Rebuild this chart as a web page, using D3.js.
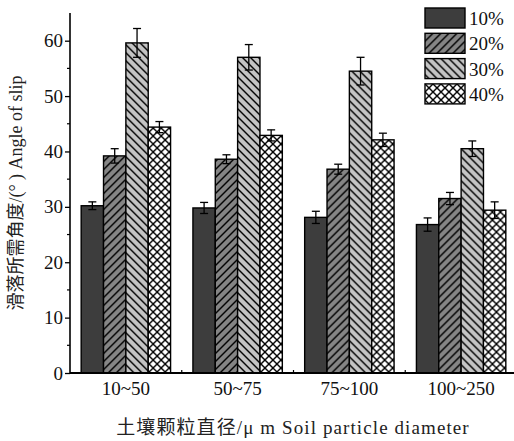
<!DOCTYPE html>
<html>
<head>
<meta charset="utf-8">
<script src="https://cdn.jsdelivr.net/npm/d3@7"></script>
<style>
  body { margin: 0; background: #fff; }
  svg text { font-family: 'Liberation Serif', 'Times New Roman', 'DejaVu Serif', 'Noto Sans CJK SC', serif; }
</style>
</head>
<body>
<div id="chart"></div>
<script>
const categories = ['10~50', '50~75', '75~100', '100~250'];
const seriesNames = ['10%', '20%', '30%', '40%'];
const means = [
  [30.2, 29.8, 28.1, 26.8],
  [39.2, 38.6, 36.8, 31.5],
  [59.6, 57.0, 54.5, 40.5],
  [44.4, 42.9, 42.1, 29.4]
];
const errors = [
  [0.7, 1.0, 1.1, 1.2],
  [1.3, 0.8, 0.9, 1.1],
  [2.6, 2.3, 2.5, 1.4],
  [1.0, 1.0, 1.2, 1.5]
];
const yTicks = [0, 10, 20, 30, 40, 50, 60];

const width = 514;
const height = 441;
const margin = { left: 70, top: 13, right: 0, bottom: 68 };
const plotBottom = height - margin.bottom;

const svg = d3.select('#chart')
  .append('svg')
  .attr('width', width)
  .attr('height', height);

const defs = svg.append('defs');

// hatch patterns
function hatch(id, bg, paths, size) {
  const p = defs.append('pattern')
    .attr('id', id)
    .attr('patternUnits', 'userSpaceOnUse')
    .attr('width', size)
    .attr('height', size);
  p.append('rect').attr('width', size).attr('height', size).attr('fill', bg);
  paths.forEach((d) => {
    p.append('path').attr('d', d).attr('stroke', '#000').attr('stroke-width', 1.4).attr('fill', 'none');
  });
}
const s = 8;
hatch('p20', '#858585', [`M0,${s} L${s},0`, `M${-s / 2},${s / 2} L${s / 2},${-s / 2}`, `M${s / 2},${s * 1.5} L${s * 1.5},${s / 2}`], s);
hatch('p30', '#c4c4c4', [`M0,0 L${s},${s}`, `M${-s / 2},${s / 2} L${s / 2},${s * 1.5}`, `M${s / 2},${-s / 2} L${s * 1.5},${s / 2}`], s);
hatch('p40', '#ffffff', [`M0,0 L${s},${s}`, `M0,${s} L${s},0`, `M${-s / 2},${s / 2} L${s / 2},${s * 1.5}`, `M${s / 2},${-s / 2} L${s * 1.5},${s / 2}`, `M${-s / 2},${s / 2} L${s / 2},${-s / 2}`, `M${s / 2},${s * 1.5} L${s * 1.5},${s / 2}`], s);
const fills = ['#3d3d3d', 'url(#p20)', 'url(#p30)', 'url(#p40)'];

const x0 = d3.scaleBand()
  .domain(categories)
  .range([margin.left, 517])
  .paddingInner(0.2)
  .paddingOuter(0.1);

const x1 = d3.scaleBand()
  .domain(seriesNames)
  .range([0, x0.bandwidth()]);

const y = d3.scaleLinear()
  .domain([0, 65])
  .range([plotBottom, margin.top]);

// bars
const groups = svg.append('g')
  .selectAll('g')
  .data(categories)
  .join('g')
  .attr('transform', (d) => `translate(${x0(d)},0)`);

groups.selectAll('rect')
  .data((d, i) => seriesNames.map((name, j) => ({ name, j, v: means[j][i], e: errors[j][i] })))
  .join('rect')
  .attr('x', (d) => x1(d.name))
  .attr('y', (d) => y(d.v))
  .attr('width', x1.bandwidth())
  .attr('height', (d) => plotBottom - y(d.v))
  .attr('fill', (d) => fills[d.j])
  .attr('stroke', '#000')
  .attr('stroke-width', 1.4);

// error bars
const eb = groups.selectAll('g.err')
  .data((d, i) => seriesNames.map((name, j) => ({ name, v: means[j][i], e: errors[j][i] })))
  .join('g')
  .attr('class', 'err')
  .attr('stroke', '#000')
  .attr('stroke-width', 1.3);
eb.append('line')
  .attr('x1', (d) => x1(d.name) + x1.bandwidth() / 2)
  .attr('x2', (d) => x1(d.name) + x1.bandwidth() / 2)
  .attr('y1', (d) => y(d.v - d.e))
  .attr('y2', (d) => y(d.v + d.e));
[1, -1].forEach((sgn) => {
  eb.append('line')
    .attr('x1', (d) => x1(d.name) + x1.bandwidth() / 2 - 4)
    .attr('x2', (d) => x1(d.name) + x1.bandwidth() / 2 + 4)
    .attr('y1', (d) => y(d.v + sgn * d.e))
    .attr('y2', (d) => y(d.v + sgn * d.e));
});

// y axis
const yAxis = d3.axisLeft(y).tickValues(yTicks).tickSize(5).tickPadding(2);
const gy = svg.append('g')
  .attr('transform', `translate(${margin.left},0)`)
  .call(yAxis)
  .attr('font-family', null);
gy.select('.domain').attr('d', `M0,${margin.top}V${plotBottom}`).attr('stroke-width', 1.6);
gy.selectAll('.tick line').attr('stroke-width', 1.3);
gy.selectAll('.tick text').attr('font-size', 19).attr('fill', '#111');
const minor = d3.range(5, 65, 10);
gy.selectAll('.minor')
  .data(minor)
  .join('line')
  .attr('class', 'minor')
  .attr('x1', -3)
  .attr('x2', 0)
  .attr('y1', (d) => y(d))
  .attr('y2', (d) => y(d))
  .attr('stroke', '#000')
  .attr('stroke-width', 1.2);

// x axis
const xAxis = d3.axisBottom(x0).tickSize(0).tickPadding(9);
const gx = svg.append('g')
  .attr('transform', `translate(0,${plotBottom})`)
  .call(xAxis)
  .attr('font-family', null);
gx.select('.domain').attr('d', `M${margin.left},0H${width}`).attr('stroke-width', 1.8);
gx.selectAll('.tick text').attr('font-size', 19).attr('fill', '#111');
gx.selectAll('.sep')
  .data(categories.slice(1))
  .join('line')
  .attr('class', 'sep')
  .attr('x1', (d) => x0(d) - x0.step() * 0.1)
  .attr('x2', (d) => x0(d) - x0.step() * 0.1)
  .attr('y1', 0)
  .attr('y2', -3)
  .attr('stroke', '#000')
  .attr('stroke-width', 1.2);

// axis titles
svg.append('text')
  .attr('transform', `translate(22,${193}) rotate(-90)`)
  .attr('text-anchor', 'middle')
  .attr('font-size', 18)
  .attr('fill', '#222')
  .text('滑落所需角度/(°  ) Angle of slip');

svg.append('text')
  .attr('x', 293)
  .attr('y', 434)
  .attr('text-anchor', 'middle')
  .attr('font-size', 19)
  .attr('letter-spacing', 1.1)
  .attr('fill', '#222')
  .text('土壤颗粒直径/μ m  Soil particle diameter');

// legend
const legend = svg.append('g')
  .attr('transform', 'translate(425,8)')
  .selectAll('g')
  .data(seriesNames)
  .join('g')
  .attr('transform', (d, i) => `translate(0,${i * 25.3})`);
legend.append('rect')
  .attr('width', 40)
  .attr('height', 20)
  .attr('fill', (d, i) => fills[i])
  .attr('stroke', '#000')
  .attr('stroke-width', 1.4);
legend.append('text')
  .attr('x', 44)
  .attr('y', 17)
  .attr('font-size', 19)
  .attr('fill', '#111')
  .text((d) => d);
</script>
</body>
</html>
